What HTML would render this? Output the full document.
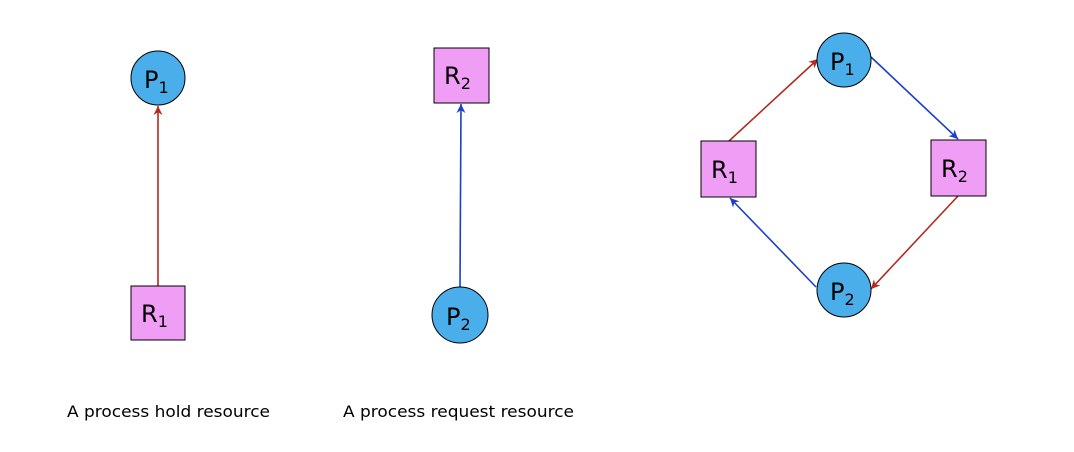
<!DOCTYPE html>
<html><head><meta charset="utf-8"><style>
html,body{margin:0;padding:0;background:#fff;}
svg{display:block;font-family:"DejaVu Sans","Liberation Sans",sans-serif;}
</style></head><body>
<svg width="1074" height="452" viewBox="0 0 1074 452">
<defs>
<marker id="ar" viewBox="0 0 10 10" refX="10" refY="5" markerWidth="9" markerHeight="9" orient="auto" markerUnits="userSpaceOnUse"><path d="M0,0 L10,5 L0,10 L3,5 Z" fill="#b22a1e"/></marker>
<marker id="ab" viewBox="0 0 10 10" refX="10" refY="5" markerWidth="9" markerHeight="9" orient="auto" markerUnits="userSpaceOnUse"><path d="M0,0 L10,5 L0,10 L3,5 Z" fill="#1a3fc8"/></marker>
</defs>
<g stroke-width="1.6" fill="none">
<line x1="158" y1="286" x2="158" y2="106" stroke="#b22a1e" marker-end="url(#ar)"/>
<line x1="460" y1="287" x2="461" y2="104" stroke="#1a3fc8" marker-end="url(#ab)"/>
<line x1="729" y1="141" x2="818" y2="59" stroke="#b22a1e" marker-end="url(#ar)"/>
<line x1="871" y1="57" x2="958" y2="139" stroke="#1a3fc8" marker-end="url(#ab)"/>
<line x1="958" y1="196" x2="871" y2="289" stroke="#b22a1e" marker-end="url(#ar)"/>
<line x1="816" y1="287" x2="730" y2="198" stroke="#1a3fc8" marker-end="url(#ab)"/>
</g>
<g stroke="#000" stroke-width="1" font-size="24" >
<g><circle cx="158" cy="78" r="27" fill="#4aaeea"/><text x="144" y="88" stroke="none" fill="#000">P<tspan font-size="16" dy="5">1</tspan></text></g>
<g><rect x="131" y="286" width="54" height="54" fill="#f09ef5"/><text x="141" y="322" stroke="none" fill="#000">R<tspan font-size="16" dy="5">1</tspan></text></g>
<g><rect x="434" y="48" width="55" height="55" fill="#f09ef5"/><text x="444" y="84" stroke="none" fill="#000">R<tspan font-size="16" dy="5">2</tspan></text></g>
<g><circle cx="460" cy="315" r="28" fill="#4aaeea"/><text x="446" y="325" stroke="none" fill="#000">P<tspan font-size="16" dy="5">2</tspan></text></g>
<g><circle cx="844" cy="60" r="27" fill="#4aaeea"/><text x="830" y="70" stroke="none" fill="#000">P<tspan font-size="16" dy="5">1</tspan></text></g>
<g><rect x="701" y="141" width="55" height="56" fill="#f09ef5"/><text x="711" y="178" stroke="none" fill="#000">R<tspan font-size="16" dy="5">1</tspan></text></g>
<g><rect x="931" y="140" width="55" height="56" fill="#f09ef5"/><text x="941" y="177" stroke="none" fill="#000">R<tspan font-size="16" dy="5">2</tspan></text></g>
<g><circle cx="844" cy="290" r="27" fill="#4aaeea"/><text x="830" y="300" stroke="none" fill="#000">P<tspan font-size="16" dy="5">2</tspan></text></g>
</g>
<text x="67" y="417" font-size="16" textLength="203" lengthAdjust="spacingAndGlyphs" fill="#000">A process hold resource</text>
<text x="343" y="417" font-size="16" textLength="231" lengthAdjust="spacingAndGlyphs" fill="#000">A process request resource</text>
</svg>
</body></html>
